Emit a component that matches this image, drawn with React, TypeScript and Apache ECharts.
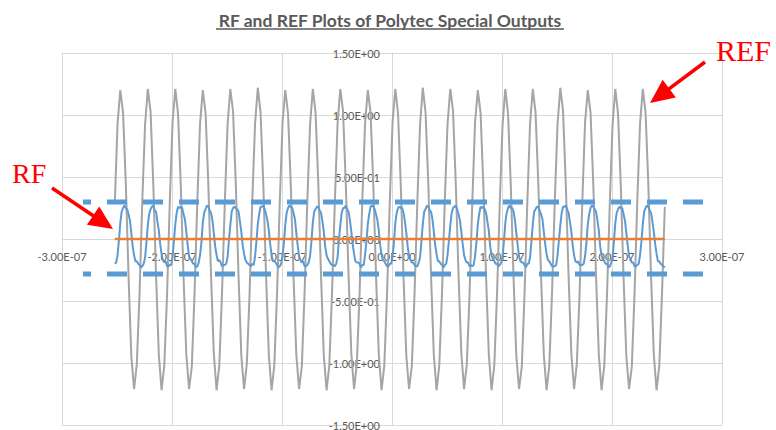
import React, { useEffect, useRef } from "react";
import * as echarts from "echarts";

// Sampling grids of the two captured channels (seconds)
const refStart = -2.52e-7;
const refStep = 2.5e-9;
const rfStart = -2.52e-7;
const rfStep = 1.25e-9;
const offsetTimes = [-2.52e-7, 2.48e-7];

// REF output (V)
const refValues = [
  0.29, 0.93, 1.2, 1.02, 0.45, -0.3, -0.94, -1.21, -1.01, -0.44,
  0.31, 0.92, 1.21, 1.03, 0.44, -0.29, -0.93, -1.22, -1.02, -0.45,
  0.3, 0.94, 1.21, 1.01, 0.43, -0.31, -0.93, -1.21, -1.03, -0.44,
  0.3, 0.93, 1.2, 1.02, 0.45, -0.3, -0.92, -1.22, -1.02, -0.43,
  0.29, 0.92, 1.21, 1.03, 0.44, -0.3, -0.94, -1.21, -1.01, -0.45,
  0.31, 0.93, 1.22, 1.02, 0.44, -0.29, -0.93, -1.22, -1.02, -0.44,
  0.3, 0.94, 1.2, 1.01, 0.43, -0.31, -0.93, -1.21, -1.03, -0.44,
  0.3, 0.92, 1.21, 1.02, 0.45, -0.3, -0.94, -1.22, -1.02, -0.43,
  0.29, 0.93, 1.21, 1.03, 0.44, -0.29, -0.92, -1.21, -1.01, -0.45,
  0.31, 0.93, 1.2, 1.02, 0.44, -0.3, -0.93, -1.22, -1.02, -0.44,
  0.3, 0.94, 1.21, 1.01, 0.43, -0.31, -0.94, -1.21, -1.03, -0.44,
  0.29, 0.92, 1.22, 1.02, 0.45, -0.3, -0.93, -1.22, -1.02, -0.43,
  0.31, 0.93, 1.21, 1.03, 0.44, -0.29, -0.92, -1.21, -1.01, -0.45,
  0.3, 0.94, 1.2, 1.02, 0.44, -0.3, -0.93, -1.22, -1.02, -0.44,
  0.3, 0.92, 1.21, 1.01, 0.43, -0.31, -0.94, -1.21, -1.03, -0.44,
  0.29, 0.93, 1.21, 1.02, 0.45, -0.3, -0.93, -1.22, -1.02, -0.43,
  0.31, 0.93, 1.22, 1.03, 0.44, -0.29, -0.92, -1.21, -1.01, -0.45,
  0.3, 0.94, 1.2, 1.02, 0.44, -0.3, -0.93, -1.22, -1.02, -0.44,
  0.29, 0.92, 1.21, 1.01, 0.43, -0.31, -0.94, -1.21, -1.03, -0.44,
  0.31, 0.93, 1.21, 1.02, 0.45, -0.3, -0.93, -1.22, -1.02, -0.43,
  0.26,
];

// RF output (V)
const rfValues = [
  -0.2, -0.19, -0.13, -0.01, 0.13, 0.22, 0.25, 0.27, 0.25, 0.24, 0.2, 0.15, 0.05, -0.06, -0.13, -0.18, -0.18, -0.2, -0.21, -0.23,
  -0.22, -0.2, -0.15, -0.03, 0.11, 0.2, 0.24, 0.26, 0.27, 0.23, 0.22, 0.14, 0.07, -0.04, -0.12, -0.17, -0.19, -0.18, -0.22, -0.22,
  -0.21, -0.21, -0.14, -0.02, 0.12, 0.21, 0.26, 0.25, 0.26, 0.25, 0.2, 0.16, 0.06, -0.05, -0.14, -0.16, -0.18, -0.2, -0.2, -0.23,
  -0.22, -0.19, -0.13, -0.03, 0.13, 0.21, 0.24, 0.27, 0.26, 0.23, 0.21, 0.15, 0.05, -0.06, -0.13, -0.18, -0.17, -0.19, -0.22, -0.21,
  -0.21, -0.2, -0.15, -0.01, 0.11, 0.22, 0.25, 0.26, 0.25, 0.24, 0.22, 0.14, 0.06, -0.05, -0.12, -0.17, -0.19, -0.2, -0.21, -0.22,
  -0.2, -0.21, -0.14, -0.02, 0.12, 0.2, 0.26, 0.26, 0.27, 0.24, 0.2, 0.15, 0.07, -0.04, -0.13, -0.18, -0.18, -0.19, -0.21, -0.23,
  -0.22, -0.2, -0.13, -0.03, 0.12, 0.21, 0.25, 0.27, 0.26, 0.25, 0.21, 0.16, 0.05, -0.05, -0.14, -0.17, -0.19, -0.18, -0.22, -0.22,
  -0.21, -0.19, -0.14, -0.02, 0.13, 0.22, 0.24, 0.26, 0.26, 0.23, 0.21, 0.14, 0.06, -0.06, -0.13, -0.16, -0.18, -0.2, -0.21, -0.21,
  -0.22, -0.2, -0.15, -0.01, 0.11, 0.21, 0.25, 0.25, 0.27, 0.24, 0.22, 0.15, 0.06, -0.04, -0.12, -0.18, -0.19, -0.19, -0.2, -0.23,
  -0.21, -0.21, -0.13, -0.02, 0.12, 0.2, 0.26, 0.27, 0.26, 0.24, 0.2, 0.15, 0.07, -0.05, -0.13, -0.17, -0.18, -0.2, -0.22, -0.22,
  -0.2, -0.2, -0.14, -0.03, 0.13, 0.21, 0.25, 0.26, 0.25, 0.25, 0.21, 0.14, 0.05, -0.06, -0.14, -0.17, -0.19, -0.19, -0.21, -0.22,
  -0.22, -0.19, -0.15, -0.02, 0.12, 0.22, 0.24, 0.27, 0.26, 0.23, 0.22, 0.16, 0.06, -0.05, -0.12, -0.18, -0.18, -0.2, -0.21, -0.23,
  -0.21, -0.2, -0.13, -0.01, 0.11, 0.21, 0.25, 0.26, 0.27, 0.24, 0.2, 0.15, 0.06, -0.04, -0.13, -0.17, -0.19, -0.19, -0.22, -0.21,
  -0.22, -0.21, -0.14, -0.03, 0.12, 0.2, 0.26, 0.25, 0.26, 0.24, 0.21, 0.14, 0.07, -0.06, -0.13, -0.16, -0.18, -0.2, -0.2, -0.22,
  -0.21, -0.19, -0.14, -0.02, 0.13, 0.21, 0.25, 0.27, 0.25, 0.25, 0.22, 0.15, 0.05, -0.05, -0.14, -0.18, -0.19, -0.19, -0.21, -0.23,
  -0.2, -0.2, -0.15, -0.02, 0.12, 0.22, 0.24, 0.26, 0.26, 0.23, 0.2, 0.16, 0.06, -0.04, -0.12, -0.17, -0.18, -0.2, -0.22, -0.22,
  -0.22, -0.21, -0.13, -0.01, 0.11, 0.21, 0.26, 0.26, 0.27, 0.24, 0.21, 0.14, 0.06, -0.05, -0.13, -0.18, -0.19, -0.18, -0.21, -0.21,
  -0.21, -0.2, -0.14, -0.03, 0.12, 0.2, 0.25, 0.27, 0.26, 0.24, 0.22, 0.15, 0.07, -0.06, -0.13, -0.17, -0.18, -0.2, -0.2, -0.23,
  -0.22, -0.19, -0.15, -0.02, 0.13, 0.21, 0.24, 0.26, 0.25, 0.25, 0.2, 0.15, 0.05, -0.05, -0.14, -0.16, -0.19, -0.19, -0.22, -0.22,
  -0.21, -0.2, -0.13, -0.02, 0.12, 0.22, 0.25, 0.27, 0.26, 0.23, 0.21, 0.14, 0.06, -0.04, -0.12, -0.18, -0.18, -0.2, -0.21, -0.22,
  -0.23,
];

// Flat offset trace (V)
const offsetValues = [0, 0];

const xTickLabels = ["-3.00E-07", "-2.00E-07", "-1.00E-07", "0.00E+00", "1.00E-07", "2.00E-07", "3.00E-07"];
const yTickLabels = ["-1.50E+00", "-1.00E+00", "-5.00E-01", "0.00E+00", "5.00E-01", "1.00E+00", "1.50E+00"];

const titleText = "RF and REF Plots of Polytec Special Outputs";

const GRID_COLOR = "#d9d9d9";
const LABEL_COLOR = "#595959";
const ANNOT_RED = "#ff0000";
const RF_BLUE = "#5b9bd5";

// Plot box of the grid (px)
const GRID_LEFT = 62;
const GRID_RIGHT = 54;
const GRID_TOP = 53;
const GRID_BOTTOM = 5;
const PLOT_W = 776 - GRID_LEFT - GRID_RIGHT;
const PLOT_H = 430 - GRID_TOP - GRID_BOTTOM;

export default function App() {
  const ref = useRef<HTMLDivElement>(null);

  useEffect(() => {
    if (!ref.current) return;
    const chart = echarts.init(ref.current, null, { renderer: "svg" });

    const refData = refValues.map((v, i) => [refStart + i * refStep, v]);
    const rfData = rfValues.map((v, i) => [rfStart + i * rfStep, v]);
    const offsetData = offsetValues.map((v, i) => [offsetTimes[i], v]);

    const arrow = (x1: number, y1: number, x2: number, y2: number) => {
      const dx = x2 - x1;
      const dy = y2 - y1;
      const len = Math.hypot(dx, dy);
      const ux = dx / len;
      const uy = dy / len;
      const headLen = 24;
      const headHalf = 11;
      const bx = x2 - ux * headLen;
      const by = y2 - uy * headLen;
      return [
        {
          type: "line",
          shape: { x1, y1, x2: bx + ux * 2, y2: by + uy * 2 },
          style: { stroke: ANNOT_RED, lineWidth: 3.5 },
          z: 20,
        },
        {
          type: "polygon",
          shape: {
            points: [
              [x2, y2],
              [bx - uy * headHalf, by + ux * headHalf],
              [bx + uy * headHalf, by - ux * headHalf],
            ],
          },
          style: { fill: ANNOT_RED },
          z: 20,
        },
      ];
    };

    const dashed = (y: number) => ({
      type: "line",
      shape: { x1: 83, y1: y, x2: 703, y2: y },
      style: { stroke: RF_BLUE, lineWidth: 5, lineDash: [20, 16], lineDashOffset: 12 },
      z: 15,
    });

    chart.setOption({
      animation: false,
      backgroundColor: "#ffffff",
      grid: {
        left: GRID_LEFT,
        right: GRID_RIGHT,
        top: GRID_TOP,
        bottom: GRID_BOTTOM,
        containLabel: false,
        outerBoundsMode: "none",
      },
      xAxis: {
        type: "value",
        min: -3e-7,
        max: 3e-7,
        interval: 1e-7,
        position: "bottom",
        // axes cross at the origin, in the middle of the plot box
        offset: -PLOT_H / 2,
        axisLine: { onZero: false, lineStyle: { color: GRID_COLOR, width: 1 } },
        axisTick: { show: false },
        axisLabel: {
          color: LABEL_COLOR,
          fontFamily: "Lato",
          fontSize: 11,
          margin: 12,
          formatter: (_v: number, i: number) => xTickLabels[i],
        },
        splitLine: { show: true, lineStyle: { color: GRID_COLOR, width: 1 } },
      },
      yAxis: {
        type: "value",
        min: -1.5,
        max: 1.5,
        interval: 0.5,
        position: "left",
        offset: -PLOT_W / 2,
        axisLine: { onZero: false, lineStyle: { color: GRID_COLOR, width: 1 } },
        axisTick: { show: false },
        axisLabel: {
          color: LABEL_COLOR,
          fontFamily: "Lato",
          fontSize: 11,
          margin: 12,
          formatter: (_v: number, i: number) => yTickLabels[i],
        },
        splitLine: { show: true, lineStyle: { color: GRID_COLOR, width: 1 } },
      },
      series: [
        {
          name: "REF",
          type: "line",
          data: refData,
          showSymbol: false,
          lineStyle: { color: "#a5a5a5", width: 2 },
          z: 2,
        },
        {
          name: "RF",
          type: "line",
          data: rfData,
          showSymbol: false,
          lineStyle: { color: RF_BLUE, width: 2 },
          z: 3,
        },
        {
          name: "Offset",
          type: "line",
          data: offsetData,
          showSymbol: false,
          lineStyle: { color: "#ed7d31", width: 2.5 },
          z: 4,
        },
      ],
      graphic: [
        {
          type: "text",
          x: 390,
          y: 20,
          style: {
            text: titleText,
            fill: LABEL_COLOR,
            font: "bold 17.5px Lato",
            align: "center",
            verticalAlign: "middle",
          },
          z: 10,
        },
        {
          type: "line",
          shape: { x1: 216, y1: 29, x2: 564, y2: 29 },
          style: { stroke: LABEL_COLOR, lineWidth: 1.5 },
          z: 10,
        },
        dashed(202),
        dashed(274),
        ...arrow(52, 188, 113, 229),
        ...arrow(705, 62, 650, 103),
        {
          type: "text",
          x: 12,
          y: 173,
          style: {
            text: "RF",
            fill: ANNOT_RED,
            font: "28px 'Liberation Serif'",
            align: "left",
            verticalAlign: "middle",
          },
          z: 20,
        },
        {
          type: "text",
          x: 716,
          y: 50,
          style: {
            text: "REF",
            fill: ANNOT_RED,
            font: "30px 'Liberation Serif'",
            align: "left",
            verticalAlign: "middle",
          },
          z: 20,
        },
      ],
    });

    return () => chart.dispose();
  }, []);

  return (
    <div
      ref={ref}
      style={{ position: "absolute", left: 0, top: 0, width: 776, height: 430 }}
    />
  );
}
